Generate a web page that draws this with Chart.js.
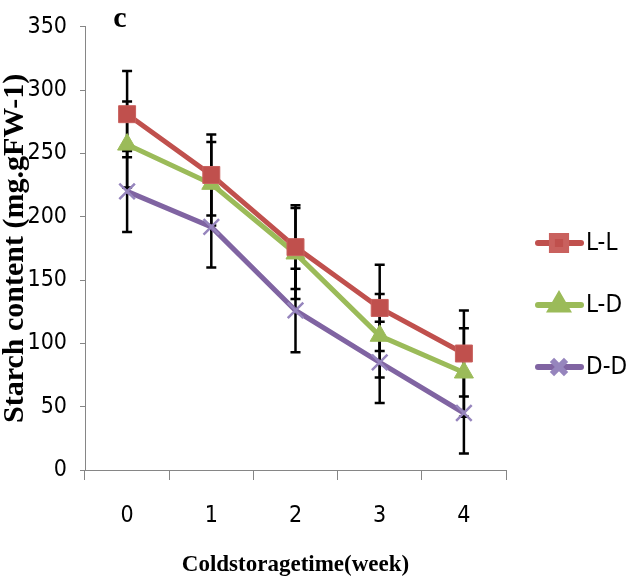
<!DOCTYPE html>
<html>
<head>
<meta charset="utf-8">
<script src="https://cdn.jsdelivr.net/npm/chart.js@4.4.1/dist/chart.umd.min.js"></script>
<style>
  body { margin: 0; background: #fff; }
  #wrap { width: 634px; height: 583px; }
</style>
</head>
<body>
<div id="wrap"><canvas id="starchChart" width="634" height="583"></canvas></div>
<script>
const weeks = ['0', '1', '2', '3', '4'];
const llValues = [281, 233, 176, 128, 92];
const llErrors = [34, 32, 33, 34, 34];
const ldValues = [257, 226, 171, 106, 77];
const ldErrors = [34, 33, 36, 33, 35];
const ddValues = [220, 192, 126, 85, 45];
const ddErrors = [32, 32, 33, 32, 32];
const yTicks = [0, 50, 100, 150, 200, 250, 300, 350];

const narrow = "'Liberation Sans Narrow', 'Arial Narrow', 'DejaVu Sans Condensed', sans-serif";
const serif = "'Liberation Serif', 'Times New Roman', serif";
const axisGray = '#868686';

const seriesErrors = [llErrors, ldErrors, ddErrors];

// error bars, drawn under the lines
const errorBars = {
    id: 'errorBars',
    beforeDatasetsDraw(chart) {
        const ctx = chart.ctx;
        const yScale = chart.scales.y;
        ctx.save();
        ctx.strokeStyle = '#000';
        ctx.lineWidth = 2.5;
        chart.data.datasets.forEach((ds, i) => {
            const meta = chart.getDatasetMeta(i);
            meta.data.forEach((pt, j) => {
                const v = ds.data[j];
                const e = seriesErrors[i][j];
                const top = yScale.getPixelForValue(v + e);
                const bot = yScale.getPixelForValue(v - e);
                ctx.beginPath();
                ctx.moveTo(pt.x, top);
                ctx.lineTo(pt.x, bot);
                ctx.moveTo(pt.x - 5, top);
                ctx.lineTo(pt.x + 5, top);
                ctx.moveTo(pt.x - 5, bot);
                ctx.lineTo(pt.x + 5, bot);
                ctx.stroke();
            });
        });
        ctx.restore();
    }
};

// legend on the right with line + marker, and the panel letter
const sideLegend = {
    id: 'sideLegend',
    afterDraw(chart) {
        const ctx = chart.ctx;
        ctx.save();
        const rows = [243, 305, 367];
        const sizes = [10, 9, 10];
        chart.data.datasets.forEach((ds, i) => {
            const y = rows[i];
            ctx.strokeStyle = ds.borderColor;
            ctx.lineWidth = 6;
            ctx.lineCap = 'round';
            ctx.beginPath();
            ctx.moveTo(538, y);
            ctx.lineTo(581, y);
            ctx.stroke();
            ctx.lineCap = 'butt';
            ctx.fillStyle = ds.pointBackgroundColor;
            ctx.strokeStyle = ds.pointBorderColor;
            Chart.helpers.drawPoint(ctx, {
                pointStyle: ds.pointStyle,
                radius: sizes[i],
                borderWidth: ds.pointBorderWidth,
                rotation: 0
            }, 559, y);
            ctx.fillStyle = '#000';
            ctx.font = '24px ' + narrow;
            ctx.textBaseline = 'middle';
            ctx.textAlign = 'left';
            ctx.fillText(ds.label, 586, y + 1);
        });
        ctx.font = 'bold 30px ' + serif;
        ctx.textAlign = 'center';
        ctx.textBaseline = 'alphabetic';
        ctx.fillText('c', 120, 27);
        ctx.restore();
    }
};

new Chart(document.getElementById('starchChart').getContext('2d'), {
    type: 'line',
    data: {
        labels: weeks,
        datasets: [
            {
                label: 'L-L',
                data: llValues,
                borderColor: '#C0504D',
                borderWidth: 5,
                pointStyle: 'rect',
                pointRadius: 12,
                pointBorderWidth: 1,
                pointBackgroundColor: '#C0504D',
                pointBorderColor: '#C9615E'
            },
            {
                label: 'L-D',
                data: ldValues,
                borderColor: '#9BBB59',
                borderWidth: 5,
                pointStyle: 'triangle',
                pointRadius: 11,
                pointBorderWidth: 1,
                pointBackgroundColor: '#9BBB59',
                pointBorderColor: '#9BBB59'
            },
            {
                label: 'D-D',
                data: ddValues,
                borderColor: '#8064A2',
                borderWidth: 5,
                pointStyle: 'crossRot',
                pointRadius: 11,
                pointBorderWidth: 2.5,
                pointBackgroundColor: '#9685BD',
                pointBorderColor: '#9685BD'
            }
        ]
    },
    options: {
        responsive: false,
        animation: false,
        layout: { padding: { top: 24, right: 128, bottom: 0, left: 0 } },
        plugins: {
            legend: { display: false },
            tooltip: { enabled: false }
        },
        elements: { line: { tension: 0 } },
        scales: {
            x: {
                type: 'category',
                offset: true,
                afterFit: s => { s.height = 113; },
                grid: {
                    offset: true,
                    drawOnChartArea: false,
                    drawTicks: true,
                    tickLength: 10,
                    color: axisGray,
                    lineWidth: 1
                },
                border: { color: axisGray, width: 1 },
                ticks: {
                    padding: 22,
                    color: '#000',
                    font: { family: narrow, size: 23 }
                },
                title: {
                    display: true,
                    text: 'Coldstoragetime(week)',
                    color: '#000',
                    font: { family: serif, size: 23, weight: 'bold', lineHeight: 1 },
                    padding: { top: 0, bottom: 6 }
                }
            },
            y: {
                min: 0,
                max: 350,
                afterFit: s => { s.width = 85; },
                afterBuildTicks: s => { s.ticks = yTicks.map(v => ({ value: v })); },
                grid: {
                    drawOnChartArea: false,
                    drawTicks: true,
                    tickLength: 5,
                    color: axisGray,
                    lineWidth: 1
                },
                border: { color: axisGray, width: 1 },
                ticks: {
                    padding: 13,
                    color: '#000',
                    font: { family: narrow, size: 23 }
                },
                title: {
                    display: true,
                    text: 'Starch content (mg.gFW-1)',
                    color: '#000',
                    font: { family: serif, size: 30, weight: 'bold', lineHeight: 1 },
                    padding: { top: 0, bottom: 0 }
                }
            }
        }
    },
    plugins: [errorBars, sideLegend]
});
</script>
</body>
</html>
